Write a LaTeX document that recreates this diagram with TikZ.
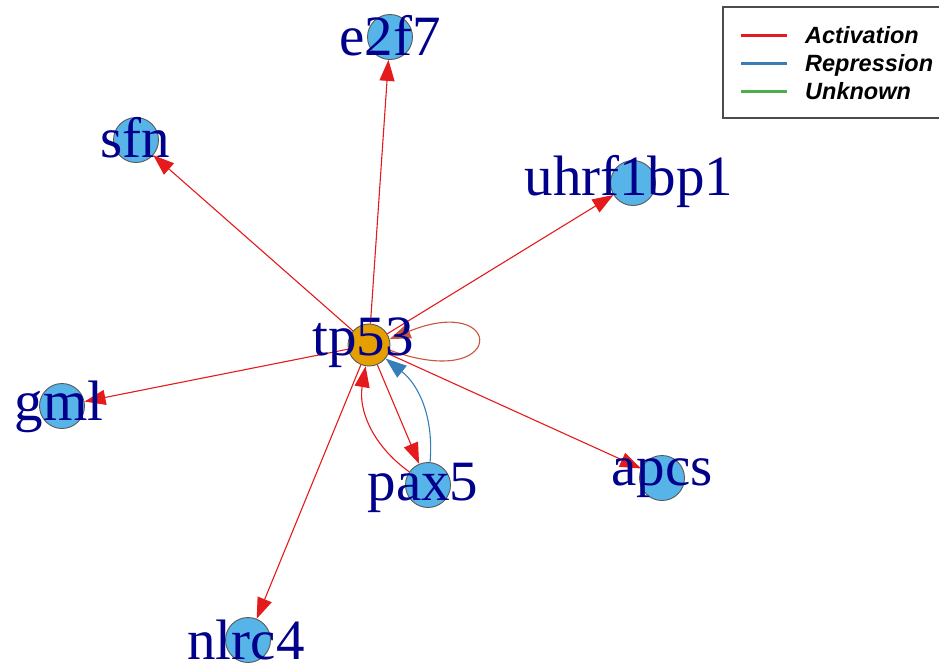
\documentclass[tikz,border=0pt]{standalone}
\usepackage{fontspec}
\setmainfont{Liberation Serif}
\newfontfamily\legendfont{Liberation Sans}
\usetikzlibrary{arrows.meta}
\definecolor{genefill}{HTML}{56B4E9}
\definecolor{hubfill}{HTML}{E69F00}
\definecolor{labelnavy}{HTML}{00008B}
\definecolor{actred}{HTML}{E41A1C}
\definecolor{repblue}{HTML}{377EB8}
\definecolor{unkgreen}{HTML}{4DAF4A}
\definecolor{loopred}{HTML}{C8553D}
\tikzset{
  gene/.style={circle, draw=black!65, fill=genefill, line width=0.9pt,
               minimum size=45pt, inner sep=0pt},
  hub/.style={gene, fill=hubfill, minimum size=42pt},
  glabel/.style={anchor=base, text=labelnavy, inner sep=0pt,
                 font=\fontsize{57}{62}\selectfont},
  actarr/.style={-{Triangle[length=21pt,width=15pt]}, draw=actred, line width=1.1pt},
  reparr/.style={actarr, draw=repblue},
  legline/.style={line width=3pt},
  legtext/.style={anchor=base west, inner sep=0pt,
                  font=\legendfont\bfseries\itshape\fontsize{23.5}{26}\selectfont},
}

\begin{document}
\begin{tikzpicture}[x=1pt,y=-1pt]
  \useasboundingbox (0,0) rectangle (939,670);
  % genes
  \node[hub] (tp53) at (369,345) {};
  \foreach \g/\x/\y in {e2f7/390/37, sfn/136/140, uhrf1bp1/633/183, gml/62/406,
                        apcs/662/478, pax5/428/485, nlrc4/248/640}
    \node[gene] (\g) at (\x,\y) {};
  % regulations
  \foreach \g in {e2f7,sfn,uhrf1bp1,gml,apcs,nlrc4,pax5}
    \draw[actarr] (tp53) -- (\g);
  \draw[actarr] (pax5) to[bend left=32] (tp53);
  \draw[reparr] (pax5) to[bend right=28] (tp53);
  \draw[actarr, draw=loopred] (tp53.-14) .. controls +(-20:125pt) and +(22:125pt) .. (tp53.16);
  % labels
  \foreach \g/\x/\y in {tp53/363/355, e2f7/390/55, sfn/135/157, uhrf1bp1/629/195,
                        gml/59/420, apcs/662/485, pax5/423/500, nlrc4/246/659}
    \node[glabel] (lbl-\g) at (\x,\y) {\g};
  % legend
  \draw[black!70, line width=1.2pt] (723,7) rectangle (950,118);
  \draw[legline, actred] (741,35) -- (787,35);
  \draw[legline, repblue] (741,63) -- (787,63);
  \draw[legline, unkgreen] (741,91) -- (787,91);
  \node[legtext] (leg-act) at (805,43) {Activation};
  \node[legtext] (leg-rep) at (805,71) {Repression};
  \node[legtext] (leg-unk) at (805,99) {Unknown};
\end{tikzpicture}
\end{document}
